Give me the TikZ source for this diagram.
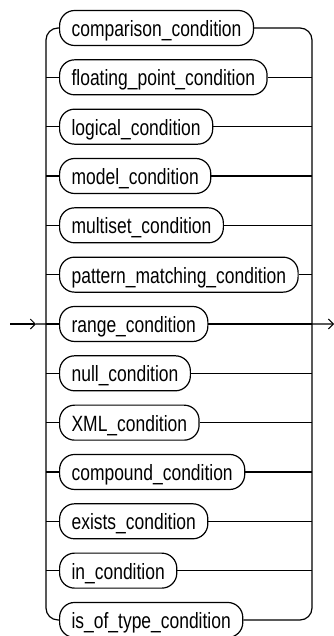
\documentclass[tikz,border=0pt]{standalone}
\usepackage{fontspec}
\setmainfont{Liberation Sans}[FakeStretch=0.79]
\usetikzlibrary{arrows.meta, positioning}

\begin{document}
\begin{tikzpicture}[
    x=1pt, y=-1pt,
    cond/.style={draw, line width=1.2pt, rounded corners=15pt, minimum height=35pt, inner xsep=12pt, inner ysep=0pt, text height=20pt, text depth=3pt, anchor=west, font=\fontsize{22.1}{25}\selectfont},
    rail/.style={line width=1.2pt, rounded corners=12pt},
    arr/.style={-{Straight Barb[length=5pt, width=10pt, line width=1pt]}, line width=1.2pt},
]
\useasboundingbox (0,0) rectangle (334,636);

% Rail end points
\coordinate (lb) at (46, 620);
\coordinate (rb) at (312, 620);

% Alternatives, one per row
\foreach \name [count=\i] in {comparison, floating\_point, logical, model, multiset, pattern\_matching, range, null, XML, compound, exists, in, is\_of\_type} {
    \node[cond] (c\i) at (59, {28 + (\i-1)*49.33}) {\name\_condition};
}

% Left and right rails
\draw[rail] (c1.west) -| (lb) -- (c13.west);
\draw[rail] (c1.east) -| (rb) -- (c13.east);

% Stubs to the rails
\foreach \i in {2,...,12} {
    \draw[line width=1.2pt] (c\i.west -| lb) -- (c\i.west);
    \draw[line width=1.2pt] (c\i.east) -- (c\i.east -| rb);
}

% Entry and exit
\coordinate (start) at (10, 324);
\coordinate (tip) at (36, 324);
\coordinate (finish) at (334, 324);
\draw[arr] (start) -- (tip);
\draw[line width=1.2pt] (tip) -- (c7.west -| lb);
\draw[arr] (c7.east -| rb) -- (finish);

\end{tikzpicture}
\end{document}
